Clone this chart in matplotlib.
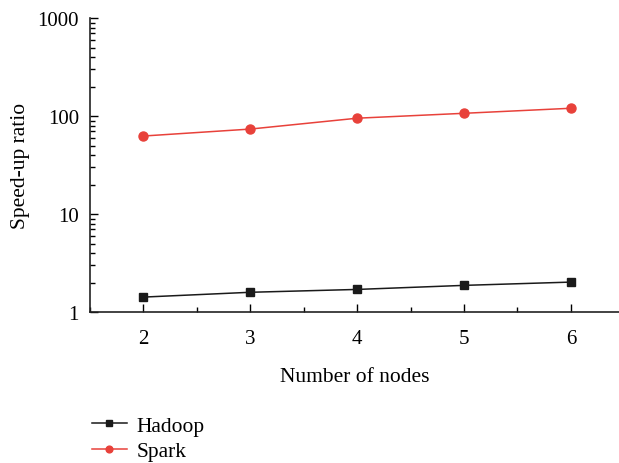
import numpy as np
import matplotlib.pyplot as plt
from matplotlib.ticker import MultipleLocator, LogLocator, NullFormatter, FixedLocator

plt.rcParams['font.family'] = ['Liberation Serif', 'DejaVu Serif']

nodes = [2, 3, 4, 5, 6]
hadoop = [1.42, 1.59, 1.70, 1.87, 2.02]
spark = [62.5, 73.6, 95, 106.6, 120]

fig = plt.figure(figsize=(6.19, 4.64), dpi=100)
ax = fig.add_axes([0.1454, 0.3254, 0.8546, 0.6336])

ax.plot(nodes, hadoop, color='#1a1a1a', marker='s', markersize=6, linewidth=1.1, label='Hadoop')
ax.plot(nodes, spark, color='#e8413a', marker='o', markersize=6.5, linewidth=1.1, label='Spark')

ax.set_yscale('log')
ax.set_ylim(1, 1000)
ax.set_xlim(1.5, 6.45)
ax.yaxis.set_major_locator(FixedLocator([1, 10, 100, 1000]))
ax.set_yticklabels(['1', '10', '100', '1000'])
ax.yaxis.set_minor_locator(LogLocator(base=10, subs=np.arange(2, 10)))
ax.yaxis.set_minor_formatter(NullFormatter())
ax.xaxis.set_major_locator(MultipleLocator(1))
ax.xaxis.set_minor_locator(MultipleLocator(0.5))

for s in ['top', 'right']:
    ax.spines[s].set_visible(False)
for s in ['left', 'bottom']:
    ax.spines[s].set_linewidth(1.2)
    ax.spines[s].set_color('#222222')

ax.tick_params(which='major', direction='in', length=6, width=1, labelsize=15)
ax.tick_params(axis='x', which='major', pad=12)
ax.tick_params(axis='y', which='major', pad=8)
ax.tick_params(which='minor', direction='in', length=3.5, width=1)

ax.set_xlabel('Number of nodes', fontsize=15.5, labelpad=14)
ax.set_ylabel('Speed-up ratio', fontsize=15.5, labelpad=5)

fig.legend(loc='upper left', bbox_to_anchor=(0.135, 0.12), frameon=False,
           fontsize=15.5, handlelength=1.6, handletextpad=0.45, labelspacing=0.25,
           borderaxespad=0, markerscale=0.75)

fig.savefig('out.png', dpi=100)
